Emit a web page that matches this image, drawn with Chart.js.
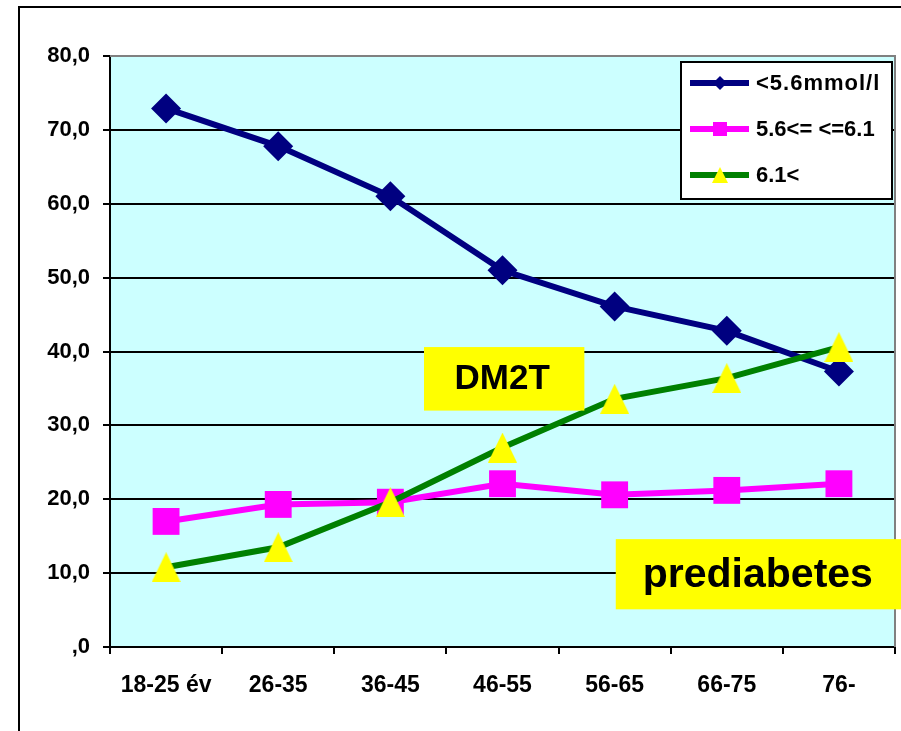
<!DOCTYPE html>
<html>
<head>
<meta charset="utf-8">
<script src="https://cdn.jsdelivr.net/npm/chart.js@4/dist/chart.umd.min.js"></script>
<style>
  body { margin: 0; background: #fff; }
  canvas { display: block; }
</style>
</head>
<body>
<canvas id="chart" width="901" height="731"></canvas>
<script>
// age groups and share of each fasting glucose group (%)
const categories = ["18-25 év", "26-35", "36-45", "46-55", "56-65", "66-75", "76-"];
const seriesNames = ["<5.6mmol/l", "5.6<= <=6.1", "6.1<"];
const normalGlucose = [72.9, 67.8, 61.0, 51.0, 46.1, 42.8, 37.3];
const impairedGlucose = [17.0, 19.3, 19.6, 22.1, 20.6, 21.2, 22.1];
const diabeticGlucose = [10.8, 13.5, 19.6, 27.0, 33.6, 36.4, 40.6];
const yMin = 0, yMax = 80, yStep = 10;

const FONT = "'Liberation Sans', Arial, sans-serif";

function triangleImage(w, h, color) {
  const c = document.createElement("canvas");
  c.width = w;
  c.height = h;
  const g = c.getContext("2d");
  g.fillStyle = color;
  g.beginPath();
  g.moveTo(w / 2, 0);
  g.lineTo(w, h);
  g.lineTo(0, h);
  g.closePath();
  g.fill();
  return c;
}

const seriesStyles = [
  { color: "#000080", marker: "diamond" },
  { color: "#FF00FF", marker: "square" },
  { color: "#008000", marker: "triangle", fill: "#FFFF00" },
];

const chartBackground = {
  id: "chartBackground",
  beforeDraw(chart) {
    const { ctx, chartArea: a } = chart;
    ctx.save();
    ctx.fillStyle = "#CCFFFF";
    ctx.fillRect(a.left, a.top, a.right - a.left, a.bottom - a.top);
    ctx.restore();
  },
  afterDraw(chart) {
    const { ctx, chartArea: a } = chart;
    ctx.save();
    // gray frame on the top and right of the plot area
    ctx.strokeStyle = "#808080";
    ctx.lineWidth = 2;
    ctx.beginPath();
    ctx.moveTo(a.left, a.top);
    ctx.lineTo(a.right, a.top);
    ctx.lineTo(a.right, a.bottom);
    ctx.stroke();
    // outer black frame
    ctx.strokeStyle = "#000";
    ctx.lineWidth = 2;
    ctx.strokeRect(19, 7, 900, 740);
    ctx.restore();
  },
};

function drawMarker(ctx, kind, x, y, color, fill) {
  ctx.fillStyle = fill || color;
  ctx.beginPath();
  if (kind === "diamond") {
    ctx.moveTo(x, y - 7);
    ctx.lineTo(x + 7, y);
    ctx.lineTo(x, y + 7);
    ctx.lineTo(x - 7, y);
  } else if (kind === "square") {
    ctx.rect(x - 7, y - 7, 14, 14);
  } else {
    ctx.moveTo(x, y - 8);
    ctx.lineTo(x + 8, y + 8);
    ctx.lineTo(x - 8, y + 8);
  }
  ctx.closePath();
  ctx.fill();
}

const boxLegend = {
  id: "boxLegend",
  afterDraw(chart) {
    const { ctx, chartArea: a } = chart;
    const w = 211, h = 137;
    const left = a.right - w - 3, top = a.top + 6;
    ctx.save();
    ctx.fillStyle = "#fff";
    ctx.fillRect(left, top, w, h);
    ctx.strokeStyle = "#000";
    ctx.lineWidth = 2;
    ctx.strokeRect(left, top, w, h);
    ctx.font = "bold 22px " + FONT;
    ctx.textBaseline = "middle";
    seriesNames.forEach((name, i) => {
      const st = seriesStyles[i];
      const y = top + 21 + i * 46;
      ctx.strokeStyle = st.color;
      ctx.lineWidth = 6;
      ctx.beginPath();
      ctx.moveTo(left + 9, y);
      ctx.lineTo(left + 68, y);
      ctx.stroke();
      drawMarker(ctx, st.marker, left + 39, y, st.color, st.fill);
      ctx.fillStyle = "#000";
      ctx.letterSpacing = i === 0 ? "1px" : "0px";
      ctx.fillText(name, left + 75, y + 1);
    });
    ctx.restore();
  },
};

const labelBoxes = {
  id: "labelBoxes",
  afterDraw(chart) {
    const { ctx } = chart;
    const x = chart.scales.x, y = chart.scales.y;
    ctx.save();
    ctx.textBaseline = "middle";
    // DM2T
    let l = x.getPixelForValue(2.3), r = x.getPixelForValue(3.73);
    let t = y.getPixelForValue(40.6), b = y.getPixelForValue(32.0);
    ctx.fillStyle = "#FFFF00";
    ctx.fillRect(l, t, r - l, b - t);
    ctx.fillStyle = "#000";
    ctx.font = "bold 35px " + FONT;
    ctx.textAlign = "center";
    ctx.fillText("DM2T", (l + r) / 2 - 2, (t + b) / 2 + 1);
    // prediabetes
    l = x.getPixelForValue(4.01);
    t = y.getPixelForValue(14.6);
    b = y.getPixelForValue(5.1);
    ctx.fillStyle = "#FFFF00";
    ctx.fillRect(l, t, chart.width - l, b - t);
    ctx.fillStyle = "#000";
    ctx.font = "bold 41px " + FONT;
    ctx.textAlign = "left";
    ctx.fillText("prediabetes", l + 27, (t + b) / 2 + 1);
    ctx.restore();
  },
};

const tri = triangleImage(29, 30, "#FFFF00");

new Chart(document.getElementById("chart"), {
  type: "line",
  data: {
    labels: categories,
    datasets: [
      {
        label: seriesNames[0],
        data: normalGlucose,
        borderColor: "#000080",
        backgroundColor: "#000080",
        borderWidth: 6,
        pointStyle: "rectRot",
        pointRadius: 15,
        pointBorderWidth: 0,
        order: 3,
      },
      {
        label: seriesNames[1],
        data: impairedGlucose,
        borderColor: "#FF00FF",
        backgroundColor: "#FF00FF",
        borderWidth: 6,
        pointStyle: "rect",
        pointRadius: 19,
        pointBorderWidth: 0,
        order: 2,
      },
      {
        label: seriesNames[2],
        data: diabeticGlucose,
        borderColor: "#008000",
        backgroundColor: "#FFFF00",
        borderWidth: 6,
        pointStyle: tri,
        pointRadius: 15,
        pointBorderWidth: 0,
        order: 1,
      },
    ],
  },
  options: {
    responsive: false,
    animation: false,
    layout: { autoPadding: false, padding: { top: 56, right: 6, left: 0, bottom: 0 } },
    plugins: { legend: { display: false }, tooltip: { enabled: false } },
    elements: { line: { tension: 0 } },
    scales: {
      x: {
        offset: true,
        grid: {
          offset: true,
          drawOnChartArea: false,
          drawTicks: true,
          tickLength: 7,
          color: "#000",
          lineWidth: 2,
        },
        border: { color: "#000", width: 2 },
        ticks: {
          color: "#000",
          font: { family: FONT, size: 23, weight: "bold" },
          padding: 18,
          maxRotation: 0,
          autoSkip: false,
        },
        afterFit(s) {
          s.height = 84;
          s.paddingLeft = 0;
          s.paddingRight = 0;
        },
      },
      y: {
        min: yMin,
        max: yMax,
        grid: { color: "#000", lineWidth: 2, tickLength: 7 },
        border: { color: "#000", width: 2 },
        ticks: {
          stepSize: yStep,
          color: "#000",
          padding: 13,
          font: { family: FONT, size: 22, weight: "bold" },
          callback: (v) => (v === 0 ? ",0" : v.toFixed(1).replace(".", ",")),
        },
        afterFit(s) { s.width = 110; },
      },
    },
  },
  plugins: [chartBackground, boxLegend, labelBoxes],
});
</script>
</body>
</html>
